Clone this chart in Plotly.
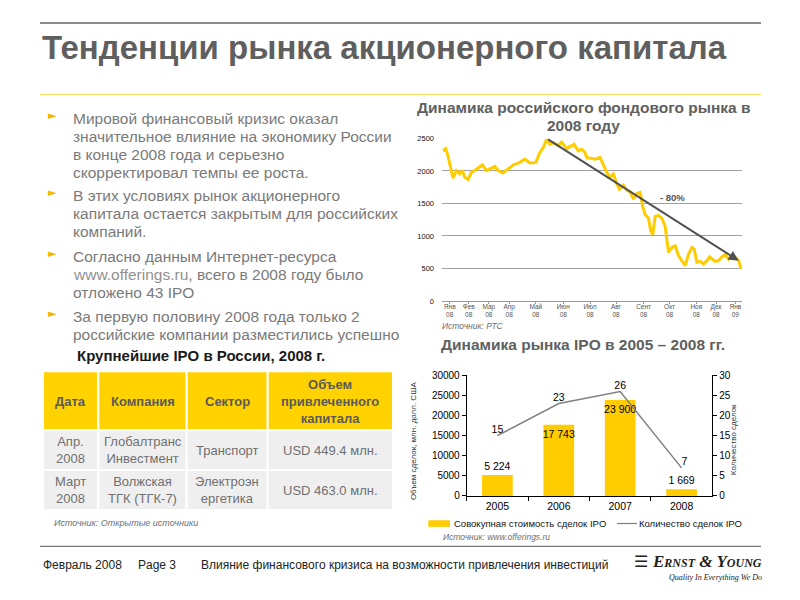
import plotly.graph_objects as go

FONT = "Liberation Sans, Arial, sans-serif"
SERIF = "Liberation Serif, Times New Roman, serif"

# ------------------------------------------------------------------ data
slide_title = "Тенденции рынка акционерного капитала"

bullet_lines = [
    ["Мировой финансовый кризис оказал",
     "значительное влияние на экономику России",
     "в конце 2008 года и серьезно",
     "скорректировал темпы ее роста."],
    ["В этих условиях рынок акционерного",
     "капитала остается закрытым для российских",
     "компаний."],
    ["Согласно данным Интернет-ресурса",
     "<span style='color:#909090'>www.offerings.ru</span>, всего в 2008 году было",
     "отложено 43 IPO"],
    ["За первую половину 2008 года только 2",
     "российские компании разместились успешно"],
]

# RTS index 2008 (day offset from start of axis, index value)
rts_day = [1.3, 4.7, 7.6, 11.9, 14.0, 18.2, 22.5, 25.9, 28.9, 33.1, 37.3, 41.6,
           47.9, 51.3, 56.4, 62.8, 67.0, 71.3, 77.6, 84.0, 90.4, 98.9, 105.2,
           111.6, 119.2, 124.3, 128.6, 132.8, 137.0, 141.3, 147.7, 151.9, 158.3,
           162.5, 167.6, 173.1, 177.4, 181.6, 183.7, 190.1, 194.3, 200.7, 204.9,
           209.2, 213.4, 217.7, 221.9, 225.3, 230.4, 234.6, 238.9, 243.1, 247.4,
           251.6, 255.0, 258.0, 262.2, 265.2, 267.7, 270.7, 274.9, 279.2, 283.4,
           285.6, 287.7, 291.9, 296.2, 300.4, 304.6, 308.9, 313.1, 317.4, 320.3,
           323.7, 328.0, 332.2, 336.5, 339.9, 342.8, 347.1, 351.3, 355.6, 359.8,
           364.0, 368.3, 372.5, 376.8, 379.7]
rts_value = [2308, 2344, 2233, 2031, 1890, 2006, 1955, 2006, 1905, 1870, 1980, 2006,
             2056, 2092, 2006, 2041, 2071, 2006, 1970, 2031, 2092, 2132, 2182,
             2122, 2132, 2283, 2359, 2485, 2409, 2434, 2394, 2444, 2344,
             2374, 2409, 2308, 2334, 2283, 2208, 2192, 2182, 2208, 2107,
             1980, 1905, 1955, 1804, 1719, 1779, 1704, 1678, 1567, 1653,
             1668, 1452, 1326, 1275, 1074, 1023, 1300, 1315, 1275, 1149,
             948, 746, 822, 847, 696, 620, 544, 721, 822, 796,
             595, 610, 570, 620, 680, 645, 610, 620, 680, 711,
             645, 696, 670, 620, 494]
rts_month_day = [9.8, 33.9, 59.4, 85.3, 119.2, 154.0, 188.0, 221.0, 256.0,
                 289.0, 323.0, 348.0, 372.5]
rts_month_label = ["Янв<br>08", "Фев<br>08", "Мар<br>08", "Апр<br>08", "Май<br>08",
                   "Июн<br>08", "Июл<br>08", "Авг<br>08", "Сент<br>08", "Окт<br>08",
                   "Ноя<br>08", "Дек<br>08", "Янв<br>09"]
rts_y_ticks = [0, 500, 1000, 1500, 2000, 2500]

# IPO market 2005-2008
ipo_years = ["2005", "2006", "2007", "2008"]
ipo_volume = [5224, 17743, 23900, 1669]
ipo_count = [15, 23, 26, 7]

# Table of largest IPOs
table_header = ["Дата", "Компания", "Сектор", "Объем<br>привлеченного<br>капитала"]
table_date = ["Апр.<br>2008", "Март<br>2008"]
table_company = ["Глобалтранс<br>Инвестмент", "Волжская<br>ТГК (ТГК-7)"]
table_sector = ["Транспорт", "Электроэн<br>ергетика"]
table_volume = ["USD 449.4 млн.", "USD 463.0 млн."]

# ------------------------------------------------------------------ helpers
W, H = 800, 600


def X(p):
    return p / W


def Y(p):
    return 1 - p / H


YELLOW = "#FFCC00"
GREY_TXT = "#7a7a7a"

fig = go.Figure()

# RTS line
fig.add_trace(go.Scatter(
    x=rts_day, y=rts_value, mode="lines", xaxis="x", yaxis="y",
    line=dict(color=YELLOW, width=3), showlegend=False, hoverinfo="skip"))

# IPO bars
fig.add_trace(go.Bar(
    x=ipo_years, y=ipo_volume, xaxis="x2", yaxis="y2", width=0.5,
    marker=dict(color=YELLOW, line=dict(width=0)),
    texttemplate="%{y:,}", textangle=0,
    textposition=["outside", "inside", "inside", "outside"],
    insidetextanchor="end", constraintext="none", cliponaxis=False,
    textfont=dict(family=FONT, size=10.5, color="#000"),
    showlegend=False, hoverinfo="skip"))

# IPO count line
fig.add_trace(go.Scatter(
    x=ipo_years, y=ipo_count, xaxis="x2", yaxis="y3", mode="lines+text",
    text=[str(v) for v in ipo_count],
    textposition=["top center", "top center", "top center", "top right"],
    textfont=dict(family=FONT, size=10.5, color="#000"),
    line=dict(color="#808080", width=1.5), cliponaxis=False,
    showlegend=False, hoverinfo="skip"))

shapes = []
annotations = []


def text(x, y, s, size, color="#000", bold=False, italic=False, anchor="left",
         family=FONT, angle=0):
    if bold:
        s = "<b>" + s + "</b>"
    if italic:
        s = "<i>" + s + "</i>"
    annotations.append(dict(
        x=X(x), y=Y(y), xref="paper", yref="paper", text=s, showarrow=False,
        xanchor=anchor, yanchor="middle", textangle=angle,
        font=dict(family=family, size=size, color=color),
        align="center" if anchor == "center" else anchor, borderpad=0))


def hline(x0, x1, y, color, width):
    shapes.append(dict(type="line", xref="paper", yref="paper",
                       x0=X(x0), x1=X(x1), y0=Y(y), y1=Y(y),
                       line=dict(color=color, width=width)))


# slide frame lines
hline(40, 761, 18.3, "#666666", 1.5)
hline(40, 761, 91, "#F5E36A", 1.5)
hline(40, 761, 550.5, "#777777", 1.2)

# title
text(40.5, 43, slide_title, 33, "#5f5f5f", bold=True)

# bullets
first_line_y = [115.5, 193.5, 255.5, 316.5]
for lines, y0 in zip(bullet_lines, first_line_y):
    text(46.5, y0 - 3, "►", 11, "#F2B800", anchor="left", family="DejaVu Sans")
    for i, ln in enumerate(lines):
        text(71.5, y0 + i * 18.3, ln, 15.5, GREY_TXT)

# chart 1 titles / notes
text(583.5, 104.3, "Динамика российского фондового рынка в", 15.5, "#606060",
     bold=True, anchor="center")
text(583.5, 122.3, "2008 году", 15.5, "#606060", bold=True, anchor="center")
text(672, 196, "- 80%", 9.5, "#555555", bold=True, anchor="center")
text(440.5, 326, "Источник: РТС", 8.5, "#707070", italic=True)

# trend arrow: from the peak of the index to the end of the period
peak_i = rts_value.index(max(rts_value))
end_i = len(rts_value) - 2
annotations.append(dict(
    x=rts_day[end_i], y=rts_value[end_i], xref="x", yref="y",
    ax=rts_day[peak_i], ay=2500, axref="x", ayref="y", text="",
    showarrow=True, arrowhead=2, arrowsize=1, arrowwidth=2,
    arrowcolor="#505050", standoff=0, startstandoff=0))

# chart 2 titles / legend / notes
text(582.5, 345, "Динамика рынка IPO в 2005 – 2008 гг.", 15.5, "#606060",
     bold=True, anchor="center")
text(413.5, 443, "Объем сделок, млн. долл. США", 8, "#333", anchor="center", angle=-90)
text(733.5, 442, "Количество сделок", 8, "#333", anchor="center", angle=-90)
shapes.append(dict(type="rect", xref="paper", yref="paper", x0=X(428.3), x1=X(450),
                   y0=Y(530.7), y1=Y(524), fillcolor=YELLOW, line=dict(width=0)))
text(452.5, 527.3, "Совокупная стоимость сделок IPO", 9.5, "#111")
hline(617, 637, 527.3, "#808080", 1.2)
text(638, 527.3, "Количество сделок IPO", 9.5, "#111")
text(441.5, 541, "Источник: www.offerings.ru", 8.5, "#707070", italic=True)

# table
text(201, 356, "Крупнейшие IPO в России, 2008 г.", 15, "#1a1a1a", bold=True,
     anchor="center")
col_edges = [43, 98.3, 186.7, 267.7, 393]
row_edges = [372.5, 432.5, 473, 513.5]
body_cols = [table_date, table_company, table_sector, table_volume]
for r in range(3):
    for c in range(4):
        x0, x1 = col_edges[c], col_edges[c + 1]
        y0, y1 = row_edges[r], row_edges[r + 1]
        shapes.append(dict(type="rect", xref="paper", yref="paper",
                           x0=X(x0), x1=X(x1), y0=Y(y1), y1=Y(y0),
                           fillcolor="#FFD200" if r == 0 else "#EFEFEF",
                           line=dict(color="white", width=2), layer="below"))
        if r == 0:
            text((x0 + x1) / 2, (y0 + y1) / 2 + 0.5, table_header[c], 13, "#5a5a5a",
                 bold=True, anchor="center")
        else:
            text((x0 + x1) / 2, (y0 + y1) / 2, body_cols[c][r - 1], 13, "#707070",
                 anchor="center")
text(53, 527, "Источник: Открытые источники", 9, "#707070", italic=True)

# footer
text(41.5, 569, "Февраль 2008", 12, "#222")
text(136.5, 569, "Page 3", 12, "#222")
text(200, 569, "Влияние финансового кризиса на возможности привлечения инвестиций",
     12, "#222")
text(649, 566, "<b>☰</b>", 16, "#222", anchor="right", family="DejaVu Sans")
annotations.append(dict(
    x=X(763), y=Y(566), xref="paper", yref="paper", showarrow=False,
    xanchor="right", yanchor="middle", borderpad=0,
    text="<b><i>E<span style='font-size:12px'>RNST</span> &amp; "
         "Y<span style='font-size:12px'>OUNG</span></i></b>",
    font=dict(family=SERIF, size=17, color="#222")))
text(763, 582, "Quality In Everything We Do", 8, "#222", italic=True,
     anchor="right", family=SERIF)

fig.update_layout(
    width=W, height=H, autosize=False,
    margin=dict(l=0, r=0, t=0, b=0, pad=0),
    paper_bgcolor="white", plot_bgcolor="rgba(0,0,0,0)",
    separators=". ", showlegend=False,
    font=dict(family=FONT),
    xaxis=dict(domain=[X(442), X(742)], anchor="y", range=[0, 381],
               tickmode="array", tickvals=rts_month_day, ticktext=rts_month_label,
               tickfont=dict(family=FONT, size=6.5, color="#555"),
               ticks="outside", ticklen=2, tickcolor="#999",
               ticklabelstandoff=-3,
               showline=True, linecolor="#999", linewidth=1,
               showgrid=False, zeroline=False, fixedrange=True),
    yaxis=dict(domain=[Y(301), Y(135.7)], anchor="x", range=[0, 2500],
               tickmode="array", tickvals=rts_y_ticks,
               tickfont=dict(family=FONT, size=7.5, color="#111"),
               showgrid=True, gridcolor="#a0a0a0", gridwidth=1,
               zeroline=False, showline=False, ticks="",
               ticklabelstandoff=7, fixedrange=True),
    xaxis2=dict(domain=[X(466.7), X(712.3)], anchor="y2", type="category",
                range=[-0.5, 3.5], showline=True, linecolor="#000", linewidth=1,
                ticks="outside", tickson="boundaries", ticklen=4, tickcolor="#000",
                tickfont=dict(family=FONT, size=10.5, color="#000"),
                showgrid=False, zeroline=False, fixedrange=True),
    yaxis2=dict(domain=[Y(499.3), Y(376.7)], anchor="x2", range=[0, 30000],
                dtick=5000, tickformat="d", showline=True, linecolor="#000",
                linewidth=1, ticks="outside", ticklen=4, tickcolor="#000",
                tickfont=dict(family=FONT, size=10, color="#000"),
                showgrid=False, zeroline=False, fixedrange=True),
    yaxis3=dict(overlaying="y2", anchor="x2", side="right", range=[0, 30],
                dtick=5, showline=True, linecolor="#000", linewidth=1,
                ticks="outside", ticklen=4, tickcolor="#000",
                tickfont=dict(family=FONT, size=10, color="#000"),
                showgrid=False, zeroline=False, fixedrange=True),
    shapes=shapes, annotations=annotations,
)

fig.write_html(
    "out.html", config={"displayModeBar": False},
    post_script="document.body.style.margin='0';"
                "document.body.style.overflow='hidden';")
